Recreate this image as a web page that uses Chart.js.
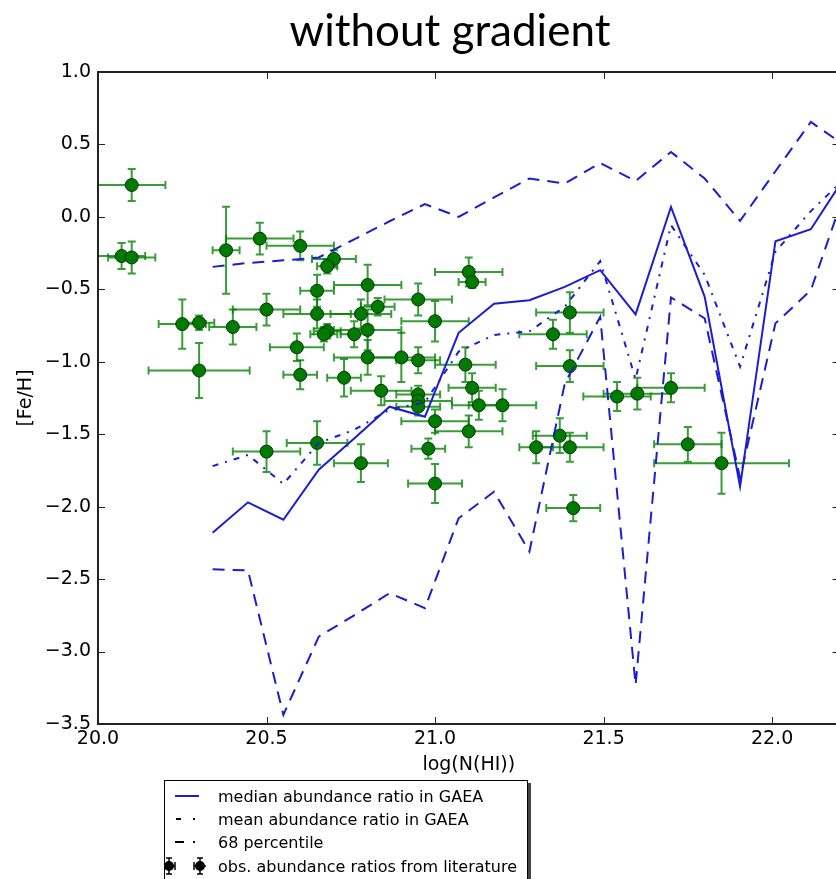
<!DOCTYPE html>
<html>
<head>
<meta charset="utf-8">
<script src="https://cdn.jsdelivr.net/npm/chart.js@4.4.1/dist/chart.umd.min.js"></script>
<style>
  html, body { margin: 0; padding: 0; background: #fff; width: 836px; height: 879px; overflow: hidden; }
  #wrap { position: relative; width: 836px; height: 879px; overflow: hidden; }
  #chart { position: absolute; left: 0; top: 0; }
  #title { position: absolute; left: 0; width: 900px; top: 3px; text-align: center;
           font-family: Lato, "Open Sans", sans-serif; font-size: 44px; color: #000; }
  #legend { position: absolute; left: 164px; top: 780px; width: 362px; height: 120px;
            border: 1px solid #000; background: #fff; box-shadow: 3px 3px 0 #444;
            font-family: "DejaVu Sans", sans-serif; font-size: 16px; color: #000; }
  .row { position: absolute; left: 0; height: 22px; display: flex; align-items: center; }
  .row svg { width: 52px; height: 22px; flex: none; }
  .row span { margin-left: 1px; white-space: nowrap; }
</style>
</head>
<body>
<div id="wrap">
  <canvas id="chart" width="847" height="879"></canvas>
  <div id="title">without gradient</div>
  <div id="legend">
    <div class="row" style="top:4px">
      <svg viewBox="0 0 52 22"><line x1="10" y1="11" x2="34" y2="11" stroke="#1c1cd0" stroke-width="2"/></svg>
      <span>median abundance ratio in GAEA</span>
    </div>
    <div class="row" style="top:27px">
      <svg viewBox="0 0 52 22"><line x1="11" y1="11" x2="16" y2="11" stroke="#000" stroke-width="2"/><line x1="28" y1="11" x2="30" y2="11" stroke="#000" stroke-width="2"/></svg>
      <span>mean abundance ratio in GAEA</span>
    </div>
    <div class="row" style="top:50px">
      <svg viewBox="0 0 52 22"><line x1="10" y1="11" x2="19" y2="11" stroke="#000" stroke-width="2"/><line x1="28" y1="11" x2="30" y2="11" stroke="#000" stroke-width="2"/></svg>
      <span>68 percentile</span>
    </div>
    <div class="row" style="top:74px">
      <svg viewBox="0 0 52 22">
        <g stroke="#000" stroke-width="1.5">
          <line x1="-2" y1="11" x2="10" y2="11"/><line x1="4" y1="3" x2="4" y2="19"/><line x1="1" y1="3" x2="7" y2="3"/><line x1="1" y1="19" x2="7" y2="19"/>
          <line x1="29" y1="11" x2="41" y2="11"/><line x1="35" y1="3" x2="35" y2="19"/><line x1="32" y1="3" x2="38" y2="3"/><line x1="32" y1="19" x2="38" y2="19"/>
          <line x1="10" y1="7" x2="10" y2="15"/><line x1="29" y1="7" x2="29" y2="15"/>
        </g>
        <circle cx="4" cy="11" r="5" fill="#000"/><circle cx="35" cy="11" r="5" fill="#000"/>
      </svg>
      <span>obs. abundance ratios from literature</span>
    </div>
  </div>
</div>
<script>
// GAEA model curves (binned in log N(HI))
const gridX = [20.34, 20.445, 20.55, 20.655, 20.76, 20.865, 20.97, 21.07, 21.175, 21.28,
               21.385, 21.49, 21.595, 21.70, 21.80, 21.905, 22.01, 22.115, 22.22];
const medianFe = [-2.18, -1.97, -2.09, -1.745, -1.53, -1.31, -1.38, -0.80, -0.60, -0.575,
                  -0.483, -0.368, -0.673, 0.069, -0.552, -1.862, -0.168, -0.085, 0.29];
const meanFe = [-1.72, -1.643, -1.843, -1.56, -1.47, -1.33, -1.28, -0.93, -0.815, -0.79,
                -0.62, -0.305, -1.12, -0.057, -0.40, -1.034, -0.24, 0.04, 0.275];
const upperFe = [-0.345, -0.318, -0.30, -0.28, -0.155, -0.03, 0.088, 0.0, 0.134, 0.265,
                 0.23, 0.372, 0.248, 0.448, 0.265, -0.028, 0.315, 0.655, 0.485];
const lowerFe = [-2.432, -2.44, -3.437, -2.897, -2.75, -2.597, -2.70, -2.08, -1.897, -2.31,
                 -1.15, -0.69, -3.23, -0.556, -0.70, -1.80, -0.735, -0.506, 0.20];

// observations from literature
const obsX = [20.10, 20.07, 20.10, 20.38, 20.48, 20.60, 20.25, 20.30, 20.40, 20.50,
              20.30, 20.59, 20.60, 20.70, 20.68, 20.65, 20.80, 20.65, 20.83, 20.78,
              20.95, 21.10, 21.11, 21.00, 20.80, 20.68, 20.67, 20.76, 20.80, 20.90,
              20.95, 20.73, 20.84, 20.95, 20.95, 20.95, 21.09, 21.11, 21.13, 21.00,
              21.20, 21.10, 20.65, 20.78, 20.98, 21.00, 20.50, 21.40, 21.35, 21.40,
              21.37, 21.30, 21.40, 21.41, 21.54, 21.60, 21.70, 21.75, 21.85];
const obsY = [0.22, -0.27, -0.28, -0.23, -0.15, -0.20, -0.74, -0.73, -0.76, -0.64,
              -1.06, -0.90, -1.09, -0.29, -0.34, -0.51, -0.47, -0.67, -0.62, -0.67,
              -0.57, -0.38, -0.45, -0.72, -0.78, -0.79, -0.81, -0.81, -0.97, -0.97,
              -0.99, -1.11, -1.20, -1.225, -1.27, -1.31, -1.02, -1.18, -1.30, -1.41,
              -1.30, -1.48, -1.56, -1.70, -1.60, -1.84, -1.62, -0.66, -0.81, -1.03,
              -1.51, -1.59, -1.59, -2.01, -1.24, -1.22, -1.18, -1.57, -1.70];
const obsXErr = [0.10, 0.07, 0.07, 0.04, 0.10, 0.10, 0.07, 0.045, 0.07, 0.10,
                 0.15, 0.08, 0.05, 0.065, 0.03, 0.05, 0.10, 0.10, 0.05, 0.09,
                 0.10, 0.10, 0.04, 0.10, 0.10, 0.04, 0.04, 0.04, 0.10, 0.10,
                 0.065, 0.05, 0.09, 0.065, 0.10, 0.065, 0.09, 0.07, 0.08, 0.10,
                 0.10, 0.10, 0.09, 0.08, 0.05, 0.08, 0.10, 0.10, 0.10, 0.10,
                 0.08, 0.05, 0.10, 0.08, 0.10, 0.10, 0.10, 0.10, 0.20];
const obsYErr = [0.11, 0.09, 0.11, 0.30, 0.11, 0.10, 0.17, 0.05, 0.12, 0.11,
                 0.19, 0.095, 0.10, 0.06, 0.05, 0.11, 0.14, 0.10, 0.06, 0.10,
                 0.11, 0.10, 0.04, 0.14, 0.14, 0.05, 0.05, 0.09, 0.12, 0.17,
                 0.09, 0.13, 0.10, 0.06, 0.06, 0.06, 0.12, 0.10, 0.10, 0.08,
                 0.11, 0.11, 0.15, 0.13, 0.07, 0.135, 0.14, 0.14, 0.10, 0.11,
                 0.12, 0.11, 0.10, 0.09, 0.10, 0.11, 0.10, 0.12, 0.21];

const xTicks = [20.0, 20.5, 21.0, 21.5, 22.0];
const yTicks = [1.0, 0.5, 0.0, -0.5, -1.0, -1.5, -2.0, -2.5, -3.0, -3.5];

const BLUE = '#1c1cd0';
const pts = ys => gridX.map((x, i) => ({x: x, y: ys[i]}));
const fmt = v => v.toFixed(1).replace('-', '\u2212');

// error bars under the markers
const errorBars = {
    id: 'errorBars',
    beforeDatasetsDraw(chart) {
        const {ctx, chartArea: a, scales: {x, y}} = chart;
        ctx.save();
        ctx.beginPath();
        ctx.rect(a.left, a.top, a.right - a.left, a.bottom - a.top);
        ctx.clip();
        ctx.strokeStyle = 'rgba(0,128,0,0.78)';
        ctx.lineWidth = 2;
        obsX.forEach((v, i) => {
            const px = x.getPixelForValue(v), py = y.getPixelForValue(obsY[i]);
            const x0 = x.getPixelForValue(v - obsXErr[i]), x1 = x.getPixelForValue(v + obsXErr[i]);
            const y0 = y.getPixelForValue(obsY[i] - obsYErr[i]), y1 = y.getPixelForValue(obsY[i] + obsYErr[i]);
            ctx.beginPath();
            ctx.moveTo(x0, py); ctx.lineTo(x1, py);
            ctx.moveTo(px, y0); ctx.lineTo(px, y1);
            ctx.moveTo(x0, py - 4); ctx.lineTo(x0, py + 4);
            ctx.moveTo(x1, py - 4); ctx.lineTo(x1, py + 4);
            ctx.moveTo(px - 4, y0); ctx.lineTo(px + 4, y0);
            ctx.moveTo(px - 4, y1); ctx.lineTo(px + 4, y1);
            ctx.stroke();
        });
        ctx.restore();
    }
};

// matplotlib-like frame with inward ticks on every side
const frame = {
    id: 'frame',
    afterDraw(chart) {
        const {ctx, chartArea: a, scales: {x, y}} = chart;
        ctx.save();
        ctx.strokeStyle = '#222';
        ctx.lineWidth = 1;
        ctx.beginPath();
        xTicks.forEach(t => {
            const p = Math.round(x.getPixelForValue(t)) + 0.5;
            ctx.moveTo(p, a.bottom); ctx.lineTo(p, a.bottom - 7);
            ctx.moveTo(p, a.top); ctx.lineTo(p, a.top + 7);
        });
        yTicks.forEach(t => {
            const p = Math.round(y.getPixelForValue(t)) + 0.5;
            ctx.moveTo(a.left, p); ctx.lineTo(a.left + 7, p);
            ctx.moveTo(a.right, p); ctx.lineTo(a.right - 7, p);
        });
        ctx.stroke();
        ctx.lineWidth = 2;
        ctx.strokeRect(a.left, a.top, a.right - a.left, a.bottom - a.top);
        ctx.restore();
    }
};

const chart = new Chart(
    document.getElementById('chart'),
    {
        type: 'scatter',
        data: {
            datasets: [
                { label: 'median abundance ratio in GAEA', data: pts(medianFe), showLine: true,
                  borderColor: BLUE, borderWidth: 2, pointRadius: 0, tension: 0 },
                { label: 'mean abundance ratio in GAEA', data: pts(meanFe), showLine: true,
                  borderColor: BLUE, borderWidth: 2, borderDash: [6, 7, 2, 7], pointRadius: 0 },
                { label: '68 percentile', data: pts(upperFe), showLine: true,
                  borderColor: BLUE, borderWidth: 2, borderDash: [12, 8], pointRadius: 0 },
                { label: '68 percentile low', data: pts(lowerFe), showLine: true,
                  borderColor: BLUE, borderWidth: 2, borderDash: [12, 8], pointRadius: 0 },
                { label: 'obs. abundance ratios from literature',
                  data: obsX.map((x, i) => ({x: x, y: obsY[i]})),
                  pointRadius: 6.5, pointBackgroundColor: '#007a00',
                  pointBorderColor: '#063806', pointBorderWidth: 1 }
            ]
        },
        options: {
            responsive: false,
            animation: false,
            devicePixelRatio: 1,
            layout: { padding: { left: 0, top: 72, right: 3, bottom: 99 } },
            plugins: { legend: { display: false }, tooltip: { enabled: false } },
            scales: {
                x: {
                    type: 'linear', min: 20.0, max: 22.2,
                    afterFit: s => { s.height = 56; },
                    afterBuildTicks: s => { s.ticks = xTicks.map(v => ({value: v})); },
                    grid: { display: false, drawTicks: false },
                    border: { display: false },
                    ticks: { color: '#000', padding: 4, maxRotation: 0,
                             font: { family: 'DejaVu Sans', size: 19 }, callback: fmt },
                    title: { display: true, text: 'log(N(HI))', color: '#000',
                             font: { family: 'DejaVu Sans', size: 19 }, padding: { top: 0, bottom: 4 } }
                },
                y: {
                    min: -3.5, max: 1.0,
                    afterFit: s => { s.width = 98; },
                    afterBuildTicks: s => { s.ticks = yTicks.map(v => ({value: v})); },
                    grid: { display: false, drawTicks: false },
                    border: { display: false },
                    ticks: { color: '#000', padding: 7,
                             font: { family: 'DejaVu Sans', size: 19 }, callback: fmt },
                    title: { display: true, text: '[Fe/H]', color: '#000',
                             font: { family: 'DejaVu Sans', size: 19 }, padding: { top: 15, bottom: 0 } }
                }
            }
        },
        plugins: [errorBars, frame]
    }
);
</script>
</body>
</html>
